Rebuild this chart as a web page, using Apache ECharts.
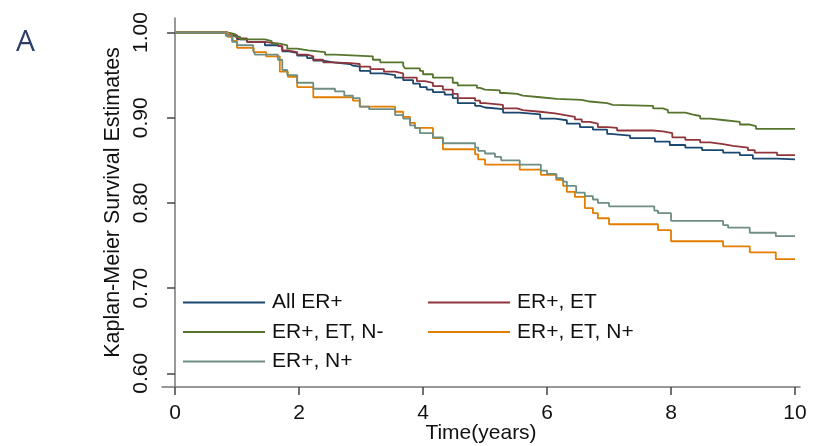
<!DOCTYPE html>
<html>
<head>
<meta charset="utf-8">
<script src="https://cdn.jsdelivr.net/npm/echarts@6/dist/echarts.min.js"></script>
<style>
    html, body { margin: 0; padding: 0; background: #fff; }
    #km_chart { width: 816px; height: 446px; }
</style>
</head>
<body>
<div id="km_chart"></div>
<script>
    // series names, in legend order
    var seriesNames = ['All ER+', 'ER+, ET', 'ER+, ET, N-', 'ER+, ET, N+', 'ER+, N+'];
    var seriesColors = ['#1a476f', '#90353b', '#55752f', '#e37e00', '#6e8e84'];

    // [time in years, survival estimate] at each step
    var allEr = [
        [0, 1.000], [0.84, 0.996], [1.00, 0.992], [1.16, 0.989], [1.45, 0.985], [1.66, 0.983],
        [1.73, 0.978], [1.81, 0.976], [1.97, 0.973], [2.13, 0.970], [2.23, 0.967], [2.39, 0.965],
        [2.55, 0.963], [2.82, 0.961], [2.87, 0.960], [2.98, 0.955], [3.15, 0.952], [3.35, 0.950],
        [3.55, 0.947], [3.68, 0.944], [3.84, 0.940], [3.95, 0.936], [4.06, 0.933], [4.16, 0.930],
        [4.35, 0.927], [4.48, 0.923], [4.56, 0.917], [4.84, 0.914], [4.92, 0.912], [5.00, 0.910],
        [5.29, 0.906], [5.56, 0.904], [5.89, 0.899], [6.13, 0.897], [6.32, 0.893], [6.53, 0.889],
        [6.74, 0.886], [6.97, 0.881], [7.02, 0.879], [7.34, 0.876], [7.74, 0.872], [7.98, 0.868],
        [8.23, 0.865], [8.50, 0.862], [8.84, 0.859], [9.11, 0.856], [9.32, 0.852], [9.71, 0.851],
        [10.0, 0.851]
    ];
    var erEt = [
        [0, 1.000], [0.84, 0.997], [1.00, 0.993], [1.16, 0.989], [1.45, 0.987], [1.66, 0.984],
        [1.73, 0.979], [1.81, 0.977], [1.97, 0.974], [2.13, 0.972], [2.23, 0.968], [2.39, 0.965],
        [2.55, 0.964], [2.82, 0.963], [2.98, 0.960], [3.15, 0.957], [3.37, 0.954], [3.55, 0.952],
        [3.68, 0.947], [3.90, 0.943], [4.03, 0.941], [4.16, 0.937], [4.32, 0.933], [4.48, 0.928],
        [4.56, 0.923], [4.84, 0.920], [4.92, 0.917], [5.00, 0.915], [5.29, 0.911], [5.52, 0.909],
        [5.61, 0.907], [5.89, 0.905], [6.13, 0.903], [6.29, 0.901], [6.45, 0.898], [6.56, 0.895],
        [6.69, 0.893], [6.82, 0.889], [6.98, 0.888], [7.13, 0.885], [7.71, 0.884], [7.87, 0.882],
        [8.02, 0.877], [8.23, 0.874], [8.47, 0.871], [8.63, 0.869], [8.84, 0.867], [9.00, 0.865],
        [9.24, 0.862], [9.35, 0.859], [9.71, 0.856], [10.0, 0.856]
    ];
    var erEtNneg = [
        [0, 1.000], [0.84, 0.998], [0.97, 0.995], [1.05, 0.992], [1.45, 0.990], [1.56, 0.987],
        [1.69, 0.985], [1.81, 0.981], [1.97, 0.979], [2.15, 0.977], [2.42, 0.974], [2.58, 0.972],
        [3.19, 0.968], [3.31, 0.965], [3.68, 0.961], [3.71, 0.958], [3.95, 0.955], [4.00, 0.951],
        [4.16, 0.947], [4.48, 0.941], [4.56, 0.938], [4.87, 0.935], [4.92, 0.933], [5.00, 0.932],
        [5.24, 0.929], [5.32, 0.928], [5.52, 0.926], [5.61, 0.924], [5.89, 0.922], [6.16, 0.921],
        [6.56, 0.919], [6.69, 0.917], [6.97, 0.915], [7.06, 0.914], [7.71, 0.911], [7.87, 0.909],
        [7.95, 0.906], [8.23, 0.904], [8.34, 0.902], [8.47, 0.899], [8.63, 0.897], [8.87, 0.895],
        [9.11, 0.892], [9.27, 0.890], [9.37, 0.887], [10.0, 0.887]
    ];
    var erEtNpos = [
        [0, 1.000], [0.85, 0.995], [0.93, 0.990], [1.00, 0.982], [1.27, 0.977], [1.47, 0.972],
        [1.69, 0.954], [1.82, 0.948], [1.97, 0.936], [2.23, 0.924], [2.87, 0.920], [2.98, 0.913],
        [3.55, 0.907], [3.68, 0.901], [3.79, 0.894], [3.87, 0.888], [4.16, 0.876], [4.32, 0.863],
        [4.84, 0.857], [4.89, 0.851], [5.00, 0.845], [5.56, 0.839], [5.90, 0.833], [6.15, 0.827],
        [6.26, 0.820], [6.32, 0.813], [6.45, 0.807], [6.61, 0.794], [6.74, 0.788], [6.82, 0.782],
        [7.00, 0.775], [7.79, 0.768], [8.00, 0.755], [8.84, 0.749], [9.27, 0.742], [9.69, 0.734],
        [10.0, 0.734]
    ];
    var erNpos = [
        [0, 1.000], [0.82, 0.996], [0.92, 0.989], [1.00, 0.985], [1.26, 0.979], [1.29, 0.974],
        [1.66, 0.968], [1.73, 0.956], [1.81, 0.950], [1.97, 0.941], [2.23, 0.934], [2.58, 0.931],
        [2.73, 0.926], [2.87, 0.923], [2.98, 0.913], [3.13, 0.910], [3.55, 0.903], [3.68, 0.899],
        [3.79, 0.891], [3.87, 0.888], [3.95, 0.882], [4.16, 0.877], [4.32, 0.870], [4.84, 0.865],
        [4.89, 0.861], [5.00, 0.858], [5.16, 0.854], [5.26, 0.850], [5.56, 0.845], [5.90, 0.838],
        [6.00, 0.834], [6.15, 0.829], [6.26, 0.825], [6.32, 0.820], [6.47, 0.812], [6.61, 0.808],
        [6.74, 0.804], [6.82, 0.800], [7.00, 0.796], [7.73, 0.791], [7.79, 0.788], [8.00, 0.779],
        [8.84, 0.774], [8.92, 0.771], [9.27, 0.765], [9.69, 0.761], [10.0, 0.761]
    ];

    var xTicks = [0, 2, 4, 6, 8, 10];
    var yTicks = [0.6, 0.7, 0.8, 0.9, 1.0];

    var allData = [allEr, erEt, erEtNneg, erEtNpos, erNpos];
    var fontName = '"Liberation Sans", Arial, sans-serif';

    var myChart = echarts.init(document.getElementById('km_chart'));

    var series = [];
    allData.forEach((d, i) => {
        series.push({
            name: seriesNames[i],
            type: 'line',
            step: 'end',
            data: d,
            showSymbol: false,
            color: seriesColors[i],
            lineStyle: { width: 1.8, color: seriesColors[i] }
        });
    });

    var legendBase = {
        orient: 'vertical',
        top: 287,
        itemWidth: 82,
        itemHeight: 2,
        itemGap: 8.5,
        icon: 'rect',
        selectedMode: false,
        textStyle: { fontSize: 21, fontFamily: fontName, color: '#111', padding: [0, 0, 0, 2] }
    };

    myChart.setOption({
        animation: false,
        title: {
            text: 'A',
            left: 11,
            top: 22,
            textStyle: { fontSize: 30, fontWeight: 'normal', color: '#2d3f68', fontFamily: '"Open Sans", sans-serif' }
        },
        legend: [
            Object.assign({}, legendBase, { left: 178, data: [seriesNames[0], seriesNames[2], seriesNames[4]] }),
            Object.assign({}, legendBase, { left: 423, data: [seriesNames[1], seriesNames[3]] })
        ],
        grid: { left: 162, right: 16, top: 18, bottom: 59, outerBoundsMode: 'none', containLabel: false },
        xAxis: {
            type: 'value',
            min: -0.21,
            max: 10.08,
            name: 'Time(years)',
            nameLocation: 'middle',
            nameGap: 36,
            nameMoveOverlap: false,
            nameTextStyle: { fontSize: 21, fontFamily: fontName, color: '#111' },
            axisLine: { lineStyle: { color: '#777', width: 1.5 } },
            axisTick: { customValues: xTicks, length: 8, lineStyle: { color: '#444', width: 1.5 } },
            axisLabel: { customValues: xTicks, fontSize: 21, fontFamily: fontName, color: '#111', margin: 16 },
            splitLine: { show: false }
        },
        yAxis: {
            type: 'value',
            min: 0.584,
            max: 1.017,
            name: 'Kaplan-Meier Survival Estimates',
            nameLocation: 'middle',
            nameGap: 38,
            nameMoveOverlap: false,
            nameTextStyle: { fontSize: 21.5, fontFamily: fontName, color: '#111' },
            axisLine: { show: true, lineStyle: { color: '#777', width: 1.5 } },
            axisTick: { show: true, customValues: yTicks, length: 8, lineStyle: { color: '#444', width: 1.5 } },
            axisLabel: {
                customValues: yTicks, rotate: 90, fontSize: 21, fontFamily: fontName, color: '#111', margin: 10,
                formatter: function (v) { return v.toFixed(2); }
            },
            splitLine: { show: false }
        },
        series: series
    });
</script>
</body>
</html>
